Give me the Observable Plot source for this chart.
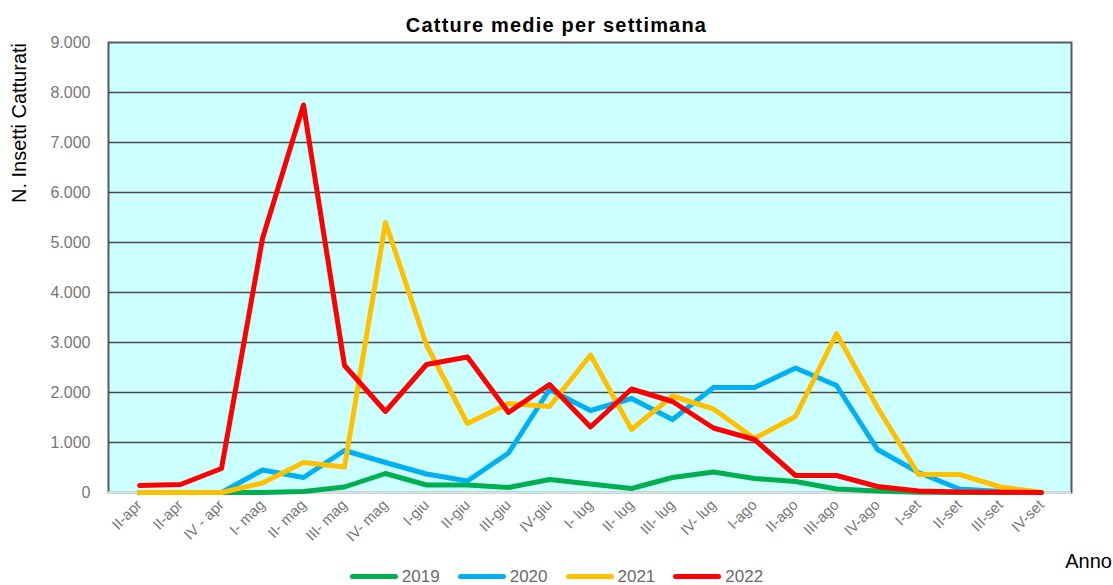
<!DOCTYPE html>
<html><head><meta charset="utf-8">
<script src="https://cdn.jsdelivr.net/npm/d3@7"></script>
<script src="https://cdn.jsdelivr.net/npm/@observablehq/plot@0.6"></script>
<style>
body{margin:0;background:#fff;font-family:"Liberation Sans",Arial,sans-serif;}
#wrap{position:relative;width:1113px;height:585px;overflow:hidden;}
#title{position:absolute;left:0;width:1113px;top:15px;line-height:20px;text-align:center;font-weight:bold;font-size:20px;letter-spacing:1.2px;color:#000;}
#ylab{position:absolute;left:19px;top:123px;transform:translate(-50%,-50%) rotate(-90deg);white-space:nowrap;font-family:"Liberation Sans Narrow","Arial Narrow","Liberation Sans",sans-serif;font-size:20px;line-height:20px;color:#000;}
#anno{position:absolute;right:1px;top:551px;font-size:20px;line-height:20px;color:#000;}
#legend{position:absolute;top:568px;height:17px;left:0;width:1113px;display:flex;justify-content:center;gap:18px;font-size:17px;line-height:17px;color:#6a6a6a;}
.item{display:flex;align-items:center;gap:4px;}
.sw{width:48px;height:5px;border-radius:3px;}
#chart{position:absolute;left:0;top:32px;}
</style></head>
<body>
<div id="wrap">
  <div id="title">Catture medie per settimana</div>
  <div id="chart"></div>
  <div id="ylab">N. Insetti Catturati</div>
  <div id="anno">Anno</div>
  <div id="legend"></div>
</div>
<script>
const weeks = ["II-apr","II-apr","IV - apr","I- mag","II- mag","III- mag","IV- mag","I-giu","II-giu","III-giu","IV-giu","I- lug","II- lug","III- lug","IV- lug","I-ago","II-ago","III-ago","IV-ago","I-set","II-set","III-set","IV-set"];
const years = ["2019","2020","2021","2022"];
const colors = ["#00b050","#00b0f0","#ffc000","#ff0000"];
const yTicks = [0,1000,2000,3000,4000,5000,6000,7000,8000,9000];

const v2019 = [0,0,0,0,20,110,380,150,150,100,260,170,80,300,410,280,220,70,30,5,0,0,0];
const v2020 = [0,0,0,450,300,840,600,370,230,790,2060,1640,1880,1460,2100,2100,2490,2140,860,400,70,20,0];
const v2021 = [0,0,0,190,600,510,5400,2950,1380,1780,1720,2750,1260,1930,1670,1080,1520,3180,1700,360,360,110,0];
const v2022 = [140,160,480,5080,7750,2540,1620,2560,2710,1600,2160,1310,2070,1820,1290,1060,340,340,120,30,10,5,0];

const series = [v2019, v2020, v2021, v2022];
const rows = [];
series.forEach((vals, k) => vals.forEach((v, i) => rows.push({i, value: v, year: years[k]})));

const fmt = d3.formatLocale({decimal: ",", thousands: ".", grouping: [3], currency: ["", "€"]}).format(",d");

const chart = Plot.plot({
  width: 1113, height: 520,
  marginLeft: 108, marginRight: 42, marginTop: 10, marginBottom: 60,
  style: {fontFamily: "'Liberation Sans', Arial, sans-serif", background: "transparent", overflow: "visible"},
  x: {type: "point", domain: d3.range(weeks.length), padding: 0.5},
  y: {domain: [0, 9000]},
  color: {domain: years, range: colors},
  marks: [
    Plot.frame({fill: "#ccffff", stroke: "#5a5a5a", strokeWidth: 2}),
    Plot.gridY(yTicks.filter(d => d > 0 && d < 9000), {stroke: "#4a4a4a", strokeOpacity: 1, strokeWidth: 1.5}),
    Plot.ruleY([0], {stroke: "#d8e4e4", strokeWidth: 2.5}),
    Plot.axisY(yTicks, {tickSize: 0, tickPadding: 18, tickFormat: fmt, fontSize: 16, fill: "#777777", label: null}),
    Plot.axisX({tickSize: 0, tickRotate: -45, tickPadding: 10, tickFormat: i => weeks[i], fontSize: 15, fill: "#777777", label: null}),
    Plot.line(rows, {x: "i", y: "value", z: "year", stroke: "year", strokeWidth: 5})
  ]
});
document.getElementById("chart").appendChild(chart);

const legend = document.getElementById("legend");
years.forEach((y, k) => {
  const it = document.createElement("div");
  it.className = "item";
  const sw = document.createElement("div");
  sw.className = "sw";
  sw.style.background = colors[k];
  const t = document.createElement("span");
  t.textContent = y;
  it.appendChild(sw); it.appendChild(t);
  legend.appendChild(it);
});
</script>
</body></html>
